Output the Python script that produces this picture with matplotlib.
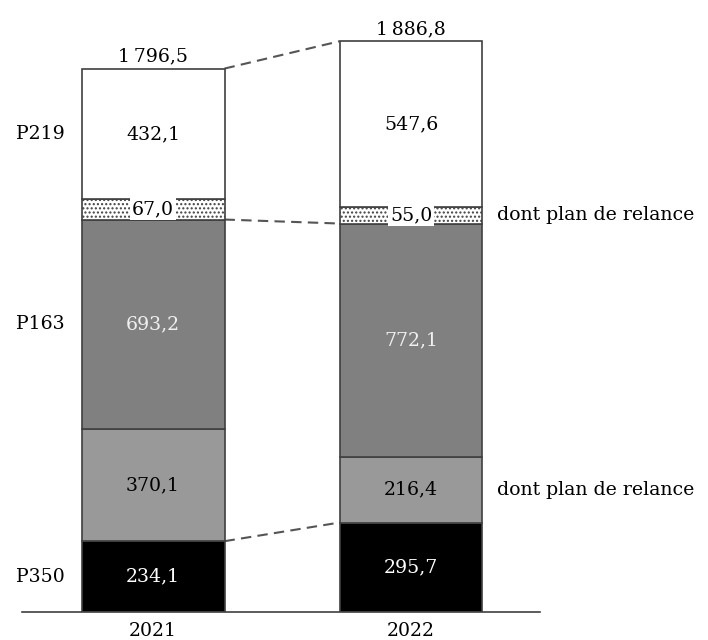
import matplotlib
matplotlib.use("Agg")
import matplotlib.pyplot as plt
import numpy as np

plt.rcParams['font.family'] = ['DejaVu Serif']
plt.rcParams['hatch.linewidth'] = 1.0

years = ["2021", "2022"]
segments = ["P350", "P163 relance", "P163", "P219 relance", "P219"]
values = {
    "P350": [234.1, 295.7],
    "P163 relance": [370.1, 216.4],
    "P163": [693.2, 772.1],
    "P219 relance": [67.0, 55.0],
    "P219": [432.1, 547.6],
}
totals = [1796.5, 1886.8]
left_labels = {"P219": "P219", "P163": "P163", "P350": "P350"}
right_labels = {"P219 relance": "dont plan de relance", "P163 relance": "dont plan de relance"}

colors = {"P350": "#000000", "P163 relance": "#999999", "P163": "#808080",
          "P219 relance": "#ffffff", "P219": "#ffffff"}
text_colors = {"P350": "#ffffff", "P163 relance": "#000000", "P163": "#f0f0f0",
               "P219 relance": "#000000", "P219": "#000000"}
hatches = {"P219 relance": "...."}

def fmt(v):
    s = f"{v:,.1f}".replace(",", "\u202f").replace(".", ",")
    return s

FS = 13.6
fig = plt.figure(figsize=(7.08, 6.4), dpi=100)
ax = fig.add_axes([22/708, 28/640, 518/708, 582/640])
x = np.arange(len(years))
w = 0.554
bottoms = np.zeros(len(years))
cum = {}
for seg in segments:
    vals = np.array(values[seg])
    ax.bar(x, vals, w, bottom=bottoms, color=colors[seg], edgecolor="#404040",
           linewidth=1.2, hatch=hatches.get(seg), zorder=2)
    cum[seg] = (bottoms.copy(), bottoms + vals)
    for i in range(len(years)):
        yc = bottoms[i] + vals[i] / 2
        kw = {}
        if seg == "P219 relance":
            kw["bbox"] = dict(facecolor="white", edgecolor="none", pad=1.5)
        ax.text(x[i], yc, fmt(vals[i]), ha="center", va="center", fontsize=FS,
                color=text_colors[seg], zorder=4, **kw)
    bottoms = bottoms + vals

for i in range(len(years)):
    ax.annotate(fmt(totals[i]), (x[i], totals[i]), xytext=(0, 2),
                textcoords="offset points", ha="center", va="bottom", fontsize=FS)

# connectors
for seg in ["P219", "P219 relance", "P350"]:
    top = cum[seg][1] if seg != "P219 relance" else cum[seg][0]
    ax.plot([x[0] + w/2, x[1] - w/2], [top[0], top[1]], linestyle=(0, (5, 3)),
            color="#555555", linewidth=1.5, zorder=1)

for seg, lab in left_labels.items():
    b, t = cum[seg]
    ax.text(-0.438, (b[0] + t[0]) / 2, lab, ha="center", va="center", fontsize=FS)
for seg, lab in right_labels.items():
    b, t = cum[seg]
    ax.text(1.333, (b[1] + t[1]) / 2, lab, ha="left", va="center", fontsize=FS,
            clip_on=False)

ax.set_xlim(-0.508, 1.5)
ax.set_ylim(0, 1924)
ax.set_xticks(x)
ax.set_xticklabels(years, fontsize=FS)
ax.tick_params(axis="x", length=0, pad=7)
ax.set_yticks([])
for s in ["top", "left", "right"]:
    ax.spines[s].set_visible(False)
ax.spines["bottom"].set_color("#404040")
ax.spines["bottom"].set_linewidth(1.2)

fig.savefig("out.png", dpi=100)
